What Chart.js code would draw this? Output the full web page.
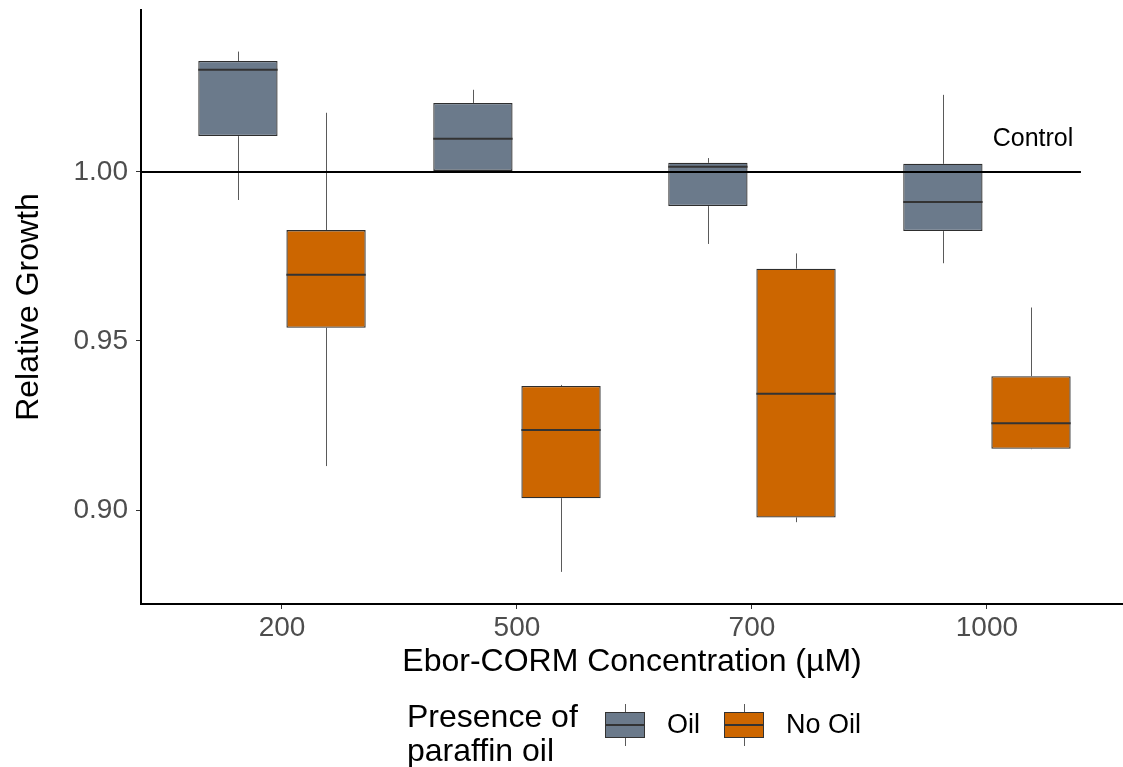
<!DOCTYPE html>
<html>
<head>
<meta charset="utf-8">
<script src="https://cdn.jsdelivr.net/npm/chart.js@4.4.1/dist/chart.umd.min.js"></script>
<style>
html,body{margin:0;padding:0;background:#fff;}
canvas{display:block;}
</style>
</head>
<body>
<canvas id="c" width="1123" height="767"></canvas>
<script>
// ---- data ----
const categories = ['200', '500', '700', '1000'];
const yTicks = [0.90, 0.95, 1.00];
const seriesNames = ['Oil', 'No Oil'];

const oilMin    = [0.9917, 1.0002, 0.9787, 0.9730];
const oilQ1     = [1.0106, 1.0003, 0.9899, 0.9825];
const oilMedian = [1.0302, 1.0098, 1.0015, 0.9911];
const oilQ3     = [1.0328, 1.0204, 1.0027, 1.0024];
const oilMax    = [1.0356, 1.0243, 1.0041, 1.0228];

const noOilMin    = [0.9130, 0.8817, 0.8964, 0.9180];
const noOilQ1     = [0.9539, 0.9035, 0.8978, 0.9181];
const noOilMedian = [0.9696, 0.9237, 0.9344, 0.9257];
const noOilQ3     = [0.9828, 0.9367, 0.9714, 0.9396];
const noOilMax    = [1.0175, 0.9370, 0.9759, 0.9599];

const controlValue = 1.00;
const controlLabel = 'Control';

// ---- styling ----
const FONT = "'Liberation Sans', Arial, Helvetica, sans-serif";
const colors = ['#6B7A8B', '#CC6600'];
const stats = [
  {min: oilMin, q1: oilQ1, med: oilMedian, q3: oilQ3, max: oilMax},
  {min: noOilMin, q1: noOilQ1, med: noOilMedian, q3: noOilQ3, max: noOilMax}
];

function boxData(s) {
  return categories.map((c, i) => ({x: i, y: [s.q1[i], s.q3[i]]}));
}

const boxPlugin = {
  id: 'boxWhiskers',
  beforeDatasetsDraw(chart) {
    const ctx = chart.ctx, y = chart.scales.y;
    ctx.save();
    ctx.strokeStyle = '#5a5a5a';
    ctx.lineWidth = 1;
    stats.forEach((s, di) => {
      const meta = chart.getDatasetMeta(di);
      meta.data.forEach((el, i) => {
        const x = Math.round(el.x) + 0.5;
        ctx.beginPath();
        ctx.moveTo(x, y.getPixelForValue(s.max[i]));
        ctx.lineTo(x, y.getPixelForValue(s.q3[i]));
        ctx.moveTo(x, y.getPixelForValue(s.q1[i]));
        ctx.lineTo(x, y.getPixelForValue(s.min[i]));
        ctx.stroke();
      });
    });
    ctx.restore();
  },
  afterDatasetsDraw(chart) {
    const ctx = chart.ctx, y = chart.scales.y, x = chart.scales.x;
    ctx.save();
    ctx.strokeStyle = '#333333';
    ctx.lineWidth = 2;
    stats.forEach((s, di) => {
      const meta = chart.getDatasetMeta(di);
      meta.data.forEach((el, i) => {
        const py = y.getPixelForValue(s.med[i]);
        ctx.beginPath();
        ctx.moveTo(el.x - el.width / 2, py);
        ctx.lineTo(el.x + el.width / 2, py);
        ctx.stroke();
      });
    });
    // control label
    ctx.fillStyle = '#000';
    ctx.font = '25px ' + FONT;
    ctx.textAlign = 'center';
    ctx.textBaseline = 'middle';
    ctx.fillText(controlLabel, x.getPixelForValue(3.196), y.getPixelForValue(1.0098));
    ctx.restore();
  },
  afterDraw(chart) {
    // legend (ggplot style, title at left)
    const ctx = chart.ctx;
    ctx.save();
    ctx.fillStyle = '#000';
    ctx.textAlign = 'left';
    ctx.textBaseline = 'alphabetic';
    ctx.font = '32px ' + FONT;
    ctx.fillText('Presence of', 407, 727);
    ctx.fillText('paraffin oil', 407, 761);
    const keys = [605, 724];
    const texts = [667, 786];
    seriesNames.forEach((name, k) => {
      const kx = keys[k], kw = 40;
      const cx = Math.round(kx + kw / 2) + 0.5;
      ctx.strokeStyle = '#5a5a5a';
      ctx.lineWidth = 1;
      ctx.beginPath();
      ctx.moveTo(cx, 704); ctx.lineTo(cx, 712);
      ctx.moveTo(cx, 738); ctx.lineTo(cx, 746);
      ctx.stroke();
      ctx.fillStyle = colors[k];
      ctx.fillRect(kx, 712, kw, 26);
      ctx.strokeStyle = '#333333';
      ctx.lineWidth = 1;
      ctx.strokeRect(kx + 0.5, 712.5, kw - 1, 25);
      ctx.lineWidth = 2;
      ctx.beginPath();
      ctx.moveTo(kx, 725); ctx.lineTo(kx + kw, 725);
      ctx.stroke();
      ctx.fillStyle = '#000';
      ctx.font = '27px ' + FONT;
      ctx.textBaseline = 'middle';
      ctx.fillText(name, texts[k], 726);
    });
    ctx.restore();
  }
};

new Chart(document.getElementById('c'), {
  data: {
    datasets: [
      {
        type: 'bar', label: seriesNames[0], data: boxData(stats[0]),
        backgroundColor: colors[0], borderColor: '#2e2e2e', borderWidth: 1.3,
        borderSkipped: false, order: 1
      },
      {
        type: 'bar', label: seriesNames[1], data: boxData(stats[1]),
        backgroundColor: colors[1], borderColor: '#2e2e2e', borderWidth: 1.3,
        borderSkipped: false, order: 1
      },
      {
        type: 'line', label: controlLabel,
        data: [{x: -0.6, y: controlValue}, {x: 3.4, y: controlValue}],
        borderColor: '#000000', borderWidth: 2, pointRadius: 0, order: 0
      }
    ]
  },
  options: {
    responsive: false,
    devicePixelRatio: 1,
    animation: false,
    events: [],
    layout: {padding: {left: 0, right: 0, top: 10, bottom: 86}},
    datasets: {bar: {categoryPercentage: 0.75, barPercentage: 0.9, grouped: true}},
    plugins: {legend: {display: false}, tooltip: {enabled: false}, title: {display: false}},
    scales: {
      x: {
        type: 'linear', min: -0.6, max: 3.579, offset: false,
        afterBuildTicks: (s) => { s.ticks = categories.map((c, i) => ({value: i})); },
        afterFit: (s) => { s.height = 77; s.paddingLeft = 0; s.paddingRight = 0; },
        ticks: {
          callback: (v) => categories[v],
          color: '#4D4D4D', font: {family: FONT, size: 28}, padding: 2, maxRotation: 0, autoSkip: false
        },
        grid: {offset: false, drawOnChartArea: false, drawTicks: true, tickLength: 5, tickColor: '#333333', tickWidth: 1},
        border: {display: true, color: '#000000', width: 2},
        title: {display: true, text: 'Ebor-CORM Concentration (µM)', color: '#000', font: {family: FONT, size: 32}, padding: {top: 0, bottom: 0}}
      },
      y: {
        type: 'linear', min: 0.8722, max: 1.0479,
        afterBuildTicks: (s) => { s.ticks = yTicks.map(v => ({value: v})); },
        afterFit: (s) => { s.width = 141; s.paddingTop = 0; s.paddingBottom = 0; },
        ticks: {
          callback: (v) => v.toFixed(2),
          color: '#4D4D4D', font: {family: FONT, size: 28}, padding: 8
        },
        grid: {drawOnChartArea: false, drawTicks: true, tickLength: 5, tickColor: '#333333', tickWidth: 1},
        border: {display: true, color: '#000000', width: 2},
        title: {display: true, text: 'Relative Growth', color: '#000', font: {family: FONT, size: 32}, padding: {top: 10, bottom: 0}}
      }
    }
  },
  plugins: [boxPlugin]
});
</script>
</body>
</html>
